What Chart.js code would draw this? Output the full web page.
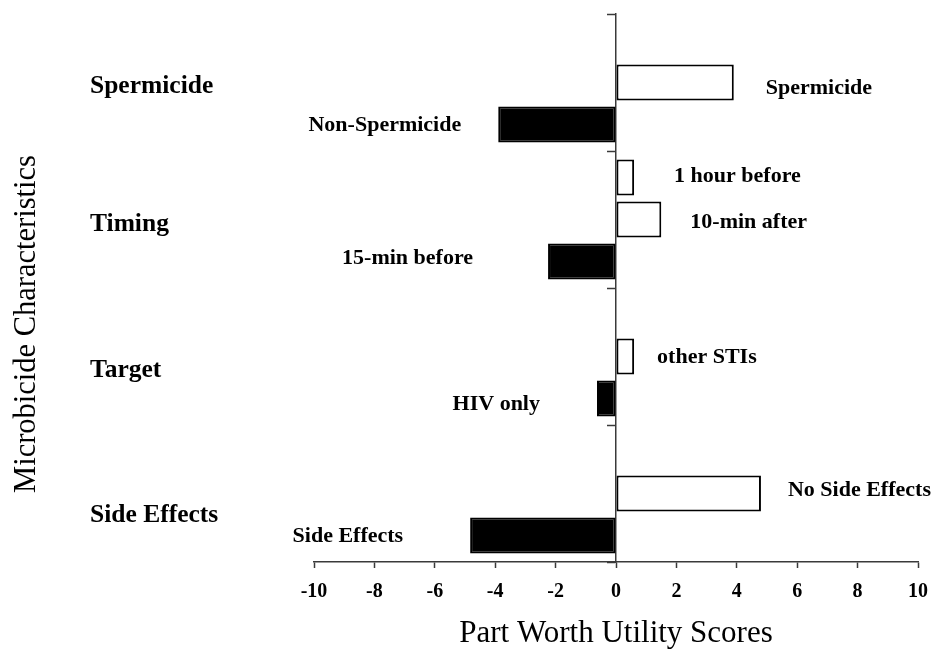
<!DOCTYPE html>
<html><head><meta charset="utf-8">
<script src="https://cdn.jsdelivr.net/npm/chart.js@4/dist/chart.umd.min.js"></script>
<style>html,body{margin:0;padding:0;background:#fff}canvas{display:block}</style>
</head><body>
<canvas id="c" width="950" height="660"></canvas>
<script>
// ---- data ----
const categories = ['Spermicide', 'Timing', 'Target', 'Side Effects'];
const upperNames  = [null, '1 hour before', null, null];
const upperValues = [null, 0.6, null, null];
const middleNames  = ['Spermicide', '10-min after', 'other STIs', 'No Side Effects'];
const middleValues = [3.9, 1.5, 0.6, 4.8];
const lowerNames  = ['Non-Spermicide', '15-min before', 'HIV only', 'Side Effects'];
const lowerValues = [-3.9, -2.25, -0.63, -4.83];
const xMin = -10, xMax = 10, xStep = 2;
const xTitle = 'Part Worth Utility Scores';
const yTitle = 'Microbicide Characteristics';

// ---- style ----
const SERIF = '"Liberation Serif", "Times New Roman", Times, serif';
const AXIS = '#3a3a3a';
const labelGap = [[0, 40, 0, 0], [32, 29, 23, 27], [37, 75, 57, 67]];
const labelDy  = [[0, -1, 0, 0], [6, 3, 1, -3], [1, -3, 6, 1]];
const groupLabelDrop = [4, 5, 13.5, 21.5];

const barLabels = {
  id: 'barLabels',
  afterDatasetsDraw(chart) {
    const ctx = chart.ctx;
    ctx.save();
    ctx.font = 'bold 22px ' + SERIF;
    ctx.fillStyle = '#000';
    ctx.textBaseline = 'middle';
    chart.data.datasets.forEach((ds, di) => {
      const meta = chart.getDatasetMeta(di);
      meta.data.forEach((el, i) => {
        const v = ds.data[i];
        if (v === null || v === undefined) return;
        const name = ds.names[i];
        const gap = labelGap[di][i];
        const y = el.y + labelDy[di][i];
        if (v >= 0) { ctx.textAlign = 'left'; ctx.fillText(name, el.x + gap, y); }
        else { ctx.textAlign = 'right'; ctx.fillText(name, el.x - gap, y); }
      });
    });
    const ca = chart.chartArea;
    ctx.translate(ca.left - 287, (ca.top + ca.bottom) / 2 + 36);
    ctx.rotate(-Math.PI / 2);
    ctx.font = '30.5px ' + SERIF;
    ctx.textAlign = 'center';
    ctx.fillText(yTitle, 0, 0);
    ctx.restore();
  }
};

const barStyle = (fill) => ({
  backgroundColor: fill, borderColor: '#000', borderWidth: 2, borderSkipped: false,
  categoryPercentage: 0.92, barPercentage: 0.857
});

new Chart(document.getElementById('c'), {
  type: 'bar',
  data: {
    labels: categories,
    datasets: [
      Object.assign({ data: upperValues, names: upperNames }, barStyle('#fff')),
      Object.assign({ data: middleValues, names: middleNames }, barStyle('#fff')),
      Object.assign({ data: lowerValues, names: lowerNames }, barStyle('#000'))
    ]
  },
  options: {
    indexAxis: 'y',
    responsive: false,
    devicePixelRatio: 1,
    animation: false,
    layout: { padding: { left: 90, top: 14, right: 32, bottom: 0 } },
    plugins: { legend: { display: false }, tooltip: { enabled: false } },
    scales: {
      x: {
        type: 'linear', min: xMin, max: xMax,
        ticks: { stepSize: xStep, color: '#000', padding: 12, font: { family: SERIF, size: 20, weight: 'bold' } },
        grid: { drawOnChartArea: false, drawTicks: true, tickLength: 6, tickColor: AXIS, tickWidth: 1.5 },
        border: { display: true, color: AXIS, width: 1.5 },
        title: { display: true, text: xTitle, color: '#000', font: { family: SERIF, size: 31 }, padding: { top: 4, bottom: 8 } },
        afterFit: (s) => { s.height = 98; }
      },
      y: {
        type: 'category', position: 'left', offset: true,
        grid: { display: false }, border: { display: false },
        ticks: {
          crossAlign: 'far', color: '#000', padding: 0,
          font: (c) => ({ family: SERIF, size: 25.5, weight: 'bold',
                          lineHeight: (groupLabelDrop[c.index] ? groupLabelDrop[c.index] * 2 : 28) + 'px' }),
          callback: function (value, index) {
            const l = this.getLabelForValue(value);
            return groupLabelDrop[index] ? ['', l] : l;
          }
        },
        afterFit: (s) => { s.width = 224; s.paddingTop = 0; s.paddingBottom = 0; }
      },
      yZero: {
        type: 'category', axis: 'y', position: { x: 0 }, offset: true,
        ticks: { display: false },
        grid: { offset: true, drawOnChartArea: false, drawTicks: true, tickLength: 8, color: AXIS, tickColor: AXIS, tickWidth: 1.5 },
        border: { display: true, color: AXIS, width: 1.5 }
      }
    }
  },
  plugins: [barLabels]
});
</script>
</body></html>
